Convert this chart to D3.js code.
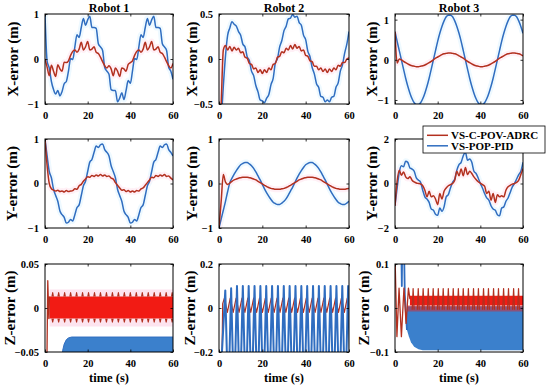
<!DOCTYPE html>
<html>
<head>
<meta charset="utf-8">
<script src="https://cdn.jsdelivr.net/npm/d3@7/dist/d3.min.js"></script>
<style>
  body { margin: 0; background: #fff; }
  svg text { font-family: "Liberation Serif", "Times New Roman", Times, serif; font-weight: bold; fill: #000; }
</style>
</head>
<body>
<div id="chart"></div>
<script>
var width = 550;
var height = 390;

var robots = ["Robot 1", "Robot 2", "Robot 3"];
var errorLabels = ["X-error (m)", "Y-error (m)", "Z-error (m)"];
var seriesNames = ["VS-C-POV-ADRC", "VS-POP-PID"];
var timeTicks = [0, 20, 40, 60];
var time = d3.range(0, 61); // 1 s samples

// ---- X-error, 1 s samples ----
var x1Adrc = [0.0,-0.18,-0.37,-0.14,-0.27,-0.39,-0.13,-0.22,-0.27,-0.07,-0.08,-0.04,0.08,0.17,0.2,0.15,0.22,0.37,0.2,0.27,0.39,0.2,0.22,0.27,0.15,0.12,0.04,-0.06,-0.15,-0.2,-0.15,-0.22,-0.37,-0.2,-0.27,-0.39,-0.2,-0.22,-0.27,-0.12,-0.08,-0.04,0.08,0.17,0.2,0.15,0.22,0.37,0.2,0.27,0.39,0.2,0.22,0.27,0.15,0.12,0.04,-0.06,-0.15,-0.2,-0.1];
var x1Pid = [1.0,-0.05,-0.2,-0.5,-0.68,-0.78,-0.7,-0.82,-0.72,-0.55,-0.5,-0.27,0.01,-0.01,0.27,0.54,0.48,0.7,0.9,0.75,0.87,0.95,0.7,0.7,0.68,0.34,0.27,0.19,-0.19,-0.27,-0.34,-0.68,-0.7,-0.7,-0.95,-0.87,-0.75,-0.9,-0.7,-0.48,-0.54,-0.27,0.01,-0.01,0.27,0.54,0.48,0.7,0.9,0.75,0.87,0.95,0.7,0.7,0.68,0.34,0.27,0.19,-0.19,-0.27,-0.45];
var x2Adrc = [-1.0,-0.5,0.1,0.15,0.1,0.14,0.09,0.13,0.1,0.12,0.07,0.08,0.02,0.01,-0.05,-0.06,-0.11,-0.1,-0.15,-0.12,-0.16,-0.12,-0.15,-0.1,-0.12,-0.06,-0.05,0.02,0.03,0.08,0.07,0.12,0.1,0.15,0.11,0.16,0.12,0.14,0.09,0.1,0.04,0.03,-0.02,-0.03,-0.08,-0.08,-0.12,-0.1,-0.14,-0.11,-0.15,-0.11,-0.14,-0.1,-0.12,-0.07,-0.08,-0.04,-0.04,0.0,0.01];
var x2Pid = [-1.0,-0.7,-0.3,0.035,0.265,0.345,0.415,0.385,0.365,0.305,0.265,0.165,0.135,0.025,-0.015,-0.135,-0.185,-0.295,-0.365,-0.455,-0.465,-0.485,-0.435,-0.395,-0.285,-0.215,-0.045,0.005,0.135,0.205,0.315,0.365,0.445,0.455,0.495,0.465,0.475,0.405,0.375,0.265,0.215,0.085,0.025,-0.095,-0.165,-0.275,-0.315,-0.415,-0.425,-0.475,-0.455,-0.475,-0.425,-0.415,-0.315,-0.265,-0.135,-0.065,0.065,0.165,0.305];
var x3Adrc = [0.7,-0.08,0.02,0.0,-0.04,-0.07,-0.1,-0.13,-0.15,-0.16,-0.17,-0.17,-0.16,-0.15,-0.13,-0.1,-0.07,-0.04,0.0,0.04,0.07,0.1,0.13,0.15,0.16,0.17,0.17,0.16,0.15,0.13,0.1,0.07,0.04,0.0,-0.04,-0.07,-0.1,-0.13,-0.15,-0.16,-0.17,-0.17,-0.16,-0.15,-0.13,-0.1,-0.07,-0.04,0.0,0.04,0.07,0.1,0.13,0.15,0.16,0.17,0.17,0.16,0.15,0.13,0.1];
var x3Pid = [0.7,0.46,0.23,0.0,-0.23,-0.46,-0.66,-0.83,-0.97,-1.07,-1.11,-1.11,-1.07,-0.97,-0.83,-0.66,-0.46,-0.23,0.0,0.23,0.46,0.66,0.83,0.97,1.07,1.11,1.11,1.07,0.97,0.83,0.66,0.46,0.23,0.0,-0.23,-0.46,-0.66,-0.83,-0.97,-1.07,-1.11,-1.11,-1.07,-0.97,-0.83,-0.66,-0.46,-0.23,0.0,0.23,0.46,0.66,0.83,0.97,1.07,1.11,1.11,1.07,0.97,0.83,0.66];

// ---- Y-error, 1 s samples ----
var y1Adrc = [1.0,0.4,0.0,-0.12,-0.15,-0.17,-0.15,-0.18,-0.17,-0.19,-0.16,-0.18,-0.17,-0.16,-0.12,-0.13,-0.05,-0.02,0.05,0.1,0.15,0.14,0.18,0.16,0.19,0.17,0.2,0.17,0.19,0.16,0.17,0.12,0.1,0.02,-0.04,-0.1,-0.15,-0.14,-0.18,-0.16,-0.19,-0.17,-0.19,-0.16,-0.17,-0.12,-0.1,-0.04,0.02,0.08,0.14,0.13,0.18,0.16,0.19,0.17,0.2,0.16,0.17,0.12,0.08];
var y1Pid = [1.0,0.62,0.27,0.13,-0.13,-0.27,-0.4,-0.62,-0.7,-0.76,-0.89,-0.87,-0.81,-0.84,-0.7,-0.54,-0.48,-0.27,-0.05,0.05,0.27,0.48,0.54,0.7,0.84,0.81,0.87,0.89,0.76,0.7,0.62,0.4,0.27,0.13,-0.13,-0.27,-0.4,-0.62,-0.7,-0.76,-0.89,-0.87,-0.81,-0.84,-0.7,-0.54,-0.48,-0.27,-0.05,0.05,0.27,0.48,0.54,0.7,0.84,0.81,0.87,0.89,0.76,0.7,0.62];
var y2Adrc = [-1.0,-0.4,0.2,0.03,-0.02,0.01,0.05,0.08,0.1,0.12,0.13,0.14,0.14,0.14,0.13,0.12,0.1,0.08,0.05,0.02,-0.01,-0.04,-0.07,-0.09,-0.11,-0.12,-0.13,-0.13,-0.13,-0.12,-0.11,-0.09,-0.07,-0.04,-0.01,0.02,0.05,0.08,0.1,0.12,0.13,0.14,0.14,0.14,0.13,0.12,0.1,0.08,0.05,0.02,-0.01,-0.04,-0.07,-0.09,-0.11,-0.12,-0.13,-0.13,-0.13,-0.12,-0.11];
var y2Pid = [-1.0,-0.8,-0.6,-0.4,-0.18,0.02,0.12,0.21,0.29,0.36,0.42,0.45,0.47,0.47,0.44,0.4,0.34,0.26,0.17,0.08,-0.02,-0.12,-0.21,-0.29,-0.36,-0.42,-0.45,-0.47,-0.47,-0.44,-0.4,-0.34,-0.26,-0.17,-0.08,0.02,0.12,0.21,0.29,0.36,0.42,0.45,0.47,0.47,0.44,0.4,0.34,0.26,0.17,0.08,-0.02,-0.12,-0.21,-0.29,-0.36,-0.42,-0.45,-0.47,-0.47,-0.44,-0.4];
var y3Adrc = [-1.0,0.1,0.6,0.37,0.52,0.3,0.22,0.3,0.15,0.07,0.02,0.0,-0.02,-0.1,-0.3,-0.6,-0.35,-0.6,-0.55,-0.7,-0.95,-0.45,-0.7,-0.35,-0.2,-0.1,-0.05,0.0,0.15,0.55,0.35,0.65,0.35,0.72,0.4,0.55,0.45,0.3,0.18,0.08,0.02,-0.05,-0.12,-0.45,-0.35,-0.75,-0.45,-0.85,-0.5,-0.6,-0.55,-0.6,-0.3,-0.15,-0.08,-0.03,0.0,0.05,0.15,0.4,0.67];
var y3Pid = [-1.0,-0.2,0.5,0.8,0.75,1.0,0.95,0.7,0.65,0.55,0.25,0.15,0.05,-0.3,-0.6,-0.7,-0.85,-1.15,-1.2,-1.38,-1.43,-1.1,-1.25,-1.05,-0.6,-0.5,-0.2,0.05,0.2,0.6,0.85,0.95,1.25,1.4,1.05,1.1,0.95,0.55,0.45,0.25,0.0,-0.2,-0.45,-0.65,-0.75,-1.0,-1.15,-1.2,-1.4,-1.45,-1.1,-1.05,-0.8,-0.65,-0.4,-0.15,0.0,0.2,0.4,0.55,0.95];

// ---- Z-error: fast oscillations, kept as start-up traces, band limits and spike times ----
// robot 1
var z1AdrcStart = [[0,-0.06],[0.9,-0.06],[1.3,0.031],[1.8,-0.012],[2.1,0.013]];
var z1AdrcBand = [-0.012, 0.013];
var z1AdrcSpikeTimes = [3.6,6.4,9.2,12.0,14.8,17.6,20.4,23.2,26.0,28.8,31.6,34.4,37.2,40.0,42.8,45.6,48.4,51.2,54.0,56.8,59.6];
var z1AdrcSpikes = [-0.016, 0.0175];
var z1PidEdge = [[7.8,-0.06],[8.3,-0.048],[9,-0.041],[10,-0.036],[11,-0.034],[12.5,-0.033],[60,-0.033]];
var z1PidFloor = -0.06;
// robot 2
var z2AdrcStart = [[0,-0.3],[1.3,-0.3],[1.7,0.02]];
var z2AdrcPeakTimes = [2.5,5.2,7.9,10.6,13.3,16.0,18.7,21.4,24.1,26.8,29.5,32.2,34.9,37.6,40.3,43.0,45.7,48.4,51.1,53.8,56.5,59.2];
var z2AdrcSwing = [-0.02, 0.045];
var z2PidPeaks = [[2.9,0.08],[5.6,0.09],[8.3,0.1],[11.0,0.1],[13.7,0.1],[16.4,0.1],[19.1,0.1],[21.8,0.1],[24.5,0.1],[27.2,0.1],[29.9,0.1],[32.6,0.1],[35.3,0.1],[38.0,0.1],[40.7,0.1],[43.4,0.1],[46.1,0.1],[48.8,0.1],[51.5,0.1],[54.2,0.1],[56.9,0.1],[59.6,0.1]];
var z2PidTrough = -0.45;
// robot 3
var z3AdrcStart = [[0,0.12],[0.9,-0.065],[1.9,0.045],[3.0,-0.065],[4.2,0.045],[5.2,-0.035],[6.3,0.045],[7.0,0.02]];
var z3AdrcBand = [0.006, 0.028];
var z3AdrcOverlap = [-0.008, 0.006];
var z3AdrcSpikeTimes = [8.5,10.9,13.2,15.6,17.9,20.3,22.6,25.0,27.3,29.7,32.0,34.4,36.8,39.1,41.5,43.8,46.2,48.5,50.9,53.2,55.6,57.9];
var z3AdrcSpikes = [-0.004, 0.044];
var z3PidStart = [[0,0.3],[2.5,0.3],[3.2,0.05],[3.7,0.3],[4.6,0.03],[5.6,-0.05]];
var z3PidTop = 0.004;
var z3PidEdge = [[5.6,-0.05],[6.5,-0.065],[7.5,-0.078],[9,-0.088],[11,-0.094],[13,-0.096],[60,-0.096]];

var adrcColor = "#b3301f";
var adrcBandColor = "#f21b14";
var adrcHalo = "#fff0f6";
var pidColor = "#2f6dc0";
var pidBandColor = "#3b80cc";
var pidHalo = "#eef9ff";

// panel geometry
var colX = [[45, 173], [219, 349], [395, 523]];
var rowY = [[14, 104], [139, 228], [264, 352]];
var ylabelOffset = [[32, 27, 23], [33, 27, 23], [35, 29, 31]];

var svg = d3.select("#chart").append("svg")
  .attr("width", width)
  .attr("height", height);

var fmt = function(v){ return v < 0 ? "\u2212" + Math.abs(v) : String(v); };
var pairs = function(values){ return values.map(function(v, i){ return [time[i], v]; }); };

var makePanel = function(row, col, yDomain, yTicks){
  var x0 = colX[col][0], x1 = colX[col][1], y0 = rowY[row][0], y1 = rowY[row][1];
  var x = d3.scaleLinear().domain([0, 60]).range([x0, x1]);
  var y = d3.scaleLinear().domain(yDomain).range([y1, y0]);
  var id = "clip" + row + col;
  svg.append("clipPath").attr("id", id)
    .append("rect").attr("x", x0).attr("y", y0).attr("width", x1 - x0).attr("height", y1 - y0);
  var halo = svg.append("g").attr("clip-path", "url(#" + id + ")");
  var plot = svg.append("g").attr("clip-path", "url(#" + id + ")");

  var axes = svg.append("g").attr("class", "axes");
  axes.append("g").attr("transform", "translate(0," + y1 + ")")
    .call(d3.axisBottom(x).tickValues(timeTicks).tickSize(-2.5).tickPadding(7.5).tickFormat(fmt));
  axes.append("g").attr("transform", "translate(0," + y0 + ")")
    .call(d3.axisTop(x).tickValues(timeTicks).tickSize(-2.5).tickFormat(""));
  axes.append("g").attr("transform", "translate(" + x0 + ",0)")
    .call(d3.axisLeft(y).tickValues(yTicks).tickSize(-2.5).tickPadding(6).tickFormat(fmt));
  axes.append("g").attr("transform", "translate(" + x1 + ",0)")
    .call(d3.axisRight(y).tickValues(yTicks).tickSize(-2.5).tickFormat(""));
  axes.selectAll(".domain").remove();
  axes.selectAll("g").attr("font-size", 10.5).attr("font-family", null);
  axes.selectAll("line").attr("stroke-width", 0.8);
  axes.append("rect")
    .attr("x", x0).attr("y", y0).attr("width", x1 - x0).attr("height", y1 - y0)
    .attr("fill", "none").attr("stroke", "#000").attr("stroke-width", 1);

  svg.append("text")
    .attr("transform", "translate(" + (x0 - ylabelOffset[row][col]) + "," + ((y0 + y1) / 2) + ") rotate(-90)")
    .attr("text-anchor", "middle").attr("dy", "0.35em")
    .attr("font-size", 14)
    .attr("textLength", 75).attr("lengthAdjust", "spacingAndGlyphs")
    .text(errorLabels[row]);

  return {x: x, y: y, plot: plot, halo: halo, axes: axes};
};

var lineFor = function(p, curve){
  return d3.line()
    .x(function(d){ return p.x(d[0]); })
    .y(function(d){ return p.y(d[1]); })
    .curve(curve || d3.curveLinear);
};

var drawLine = function(p, data, color, w, curve){
  p.plot.append("path").datum(data)
    .attr("d", lineFor(p, curve))
    .attr("fill", "none").attr("stroke", color)
    .attr("stroke-width", w).attr("stroke-linejoin", "round");
};

// faint colour fringe seen round the traces in the reference
var drawHalo = function(p, data, color, curve){
  p.halo.append("path").datum(data)
    .attr("d", lineFor(p, curve))
    .attr("fill", "none").attr("stroke", color)
    .attr("stroke-width", 6).attr("stroke-linejoin", "round");
};

var drawBand = function(p, data, color, opacity){
  var area = d3.area()
    .x(function(d){ return p.x(d[0]); })
    .y0(function(d){ return p.y(d[1]); })
    .y1(function(d){ return p.y(d[2]); });
  p.plot.append("path").datum(data)
    .attr("d", area).attr("fill", color).attr("opacity", opacity == null ? 1 : opacity);
};

var drawSpikes = function(p, times, base, tip, halfWidth, color, w){
  times.forEach(function(t){
    drawLine(p, [[t - halfWidth, base], [t, tip], [t + halfWidth, base]], color, w);
  });
};

// X and Y rows
var smooth = [
  {row: 0, col: 0, dom: [-1, 1], ticks: [-1, 0, 1], adrc: x1Adrc, pid: x1Pid},
  {row: 0, col: 1, dom: [-0.5, 0.5], ticks: [-0.5, 0, 0.5], adrc: x2Adrc, pid: x2Pid},
  {row: 0, col: 2, dom: [-1.1, 1.14], ticks: [-1, 0, 1], adrc: x3Adrc, pid: x3Pid},
  {row: 1, col: 0, dom: [-1, 1], ticks: [-1, 0, 1], adrc: y1Adrc, pid: y1Pid},
  {row: 1, col: 1, dom: [-1, 1], ticks: [-1, 0, 1], adrc: y2Adrc, pid: y2Pid},
  {row: 1, col: 2, dom: [-2, 2], ticks: [-2, 0, 2], adrc: y3Adrc, pid: y3Pid}
];
smooth.forEach(function(s){
  var p = makePanel(s.row, s.col, s.dom, s.ticks);
  drawHalo(p, pairs(s.pid), pidHalo, d3.curveMonotoneX);
  drawHalo(p, pairs(s.adrc), adrcHalo, d3.curveMonotoneX);
  drawLine(p, pairs(s.pid), pidColor, 1.5, d3.curveMonotoneX);
  drawLine(p, pairs(s.adrc), adrcColor, 1.5, d3.curveMonotoneX);
});

// Z row, robot 1
var pz1 = makePanel(2, 0, [-0.05, 0.05], [-0.05, 0, 0.05]);
drawBand(pz1, [[2.1, -0.021, 0.021], [60, -0.021, 0.021]], "#fde4ef");
drawBand(pz1, z1PidEdge.map(function(d){ return [d[0], z1PidFloor, d[1]]; }), pidBandColor);
drawLine(pz1, z1PidEdge, pidColor, 1);
drawBand(pz1, [[2.1, z1AdrcBand[0], z1AdrcBand[1]], [60, z1AdrcBand[0], z1AdrcBand[1]]], adrcBandColor);
drawLine(pz1, z1AdrcStart, adrcColor, 1.3);
drawSpikes(pz1, z1AdrcSpikeTimes, z1AdrcBand[1], z1AdrcSpikes[1], 0.35, adrcColor, 1.1);
drawSpikes(pz1, z1AdrcSpikeTimes, z1AdrcBand[0], z1AdrcSpikes[0], 0.35, adrcColor, 1.1);

// Z row, robot 2
var pz2 = makePanel(2, 1, [-0.2, 0.2], [-0.2, 0, 0.2]);
var z2AdrcTrace = z2AdrcStart.slice();
z2AdrcPeakTimes.forEach(function(t){
  z2AdrcTrace.push([t, z2AdrcSwing[1]]);
  z2AdrcTrace.push([t + 1.35, z2AdrcSwing[0]]);
});
drawLine(pz2, z2AdrcTrace, adrcColor, 1.2);
var z2PidTrace = [[0, z2PidTrough]];
z2PidPeaks.forEach(function(d){
  z2PidTrace.push(d);
  z2PidTrace.push([d[0] + 1.35, z2PidTrough]);
});
drawLine(pz2, z2PidTrace, pidColor, 2);

// Z row, robot 3
var pz3 = makePanel(2, 2, [-0.1, 0.1], [-0.1, 0, 0.1]);
drawBand(pz3, z3PidEdge.map(function(d){ return [d[0], d[1], z3PidTop]; }), pidBandColor);
drawLine(pz3, z3PidStart, pidColor, 1.8);
drawBand(pz3, [[7, z3AdrcBand[0], z3AdrcBand[1]], [60, z3AdrcBand[0], z3AdrcBand[1]]], adrcBandColor);
drawBand(pz3, [[5.6, z3AdrcOverlap[0], z3AdrcOverlap[1]], [60, z3AdrcOverlap[0], z3AdrcOverlap[1]]], adrcBandColor, 0.45);
drawLine(pz3, z3AdrcStart, adrcColor, 1.3);
drawSpikes(pz3, z3AdrcSpikeTimes, z3AdrcSpikes[0], z3AdrcSpikes[1], 0.45, adrcColor, 1.2);

// titles and time labels
robots.forEach(function(r, i){
  svg.append("text")
    .attr("x", (colX[i][0] + colX[i][1]) / 2).attr("y", 11.5)
    .attr("text-anchor", "middle").attr("font-size", 12)
    .text(r);
  svg.append("text")
    .attr("x", (colX[i][0] + colX[i][1]) / 2).attr("y", 382)
    .attr("text-anchor", "middle").attr("font-size", 12.5)
    .text("time (s)");
});

// legend
var legend = svg.append("g").attr("transform", "translate(423,126)");
legend.append("rect").attr("width", 122).attr("height", 27)
  .attr("fill", "#fff").attr("stroke", "#000").attr("stroke-width", 0.8);
[adrcColor, pidColor].forEach(function(c, i){
  var yy = 9.3 + i * 10.5;
  legend.append("line").attr("x1", 4).attr("x2", 25).attr("y1", yy).attr("y2", yy)
    .attr("stroke", c).attr("stroke-width", 1.5);
  legend.append("text").attr("x", 28).attr("y", yy).attr("dy", "0.35em")
    .attr("font-size", 11).text(seriesNames[i]);
});
</script>
</body>
</html>
